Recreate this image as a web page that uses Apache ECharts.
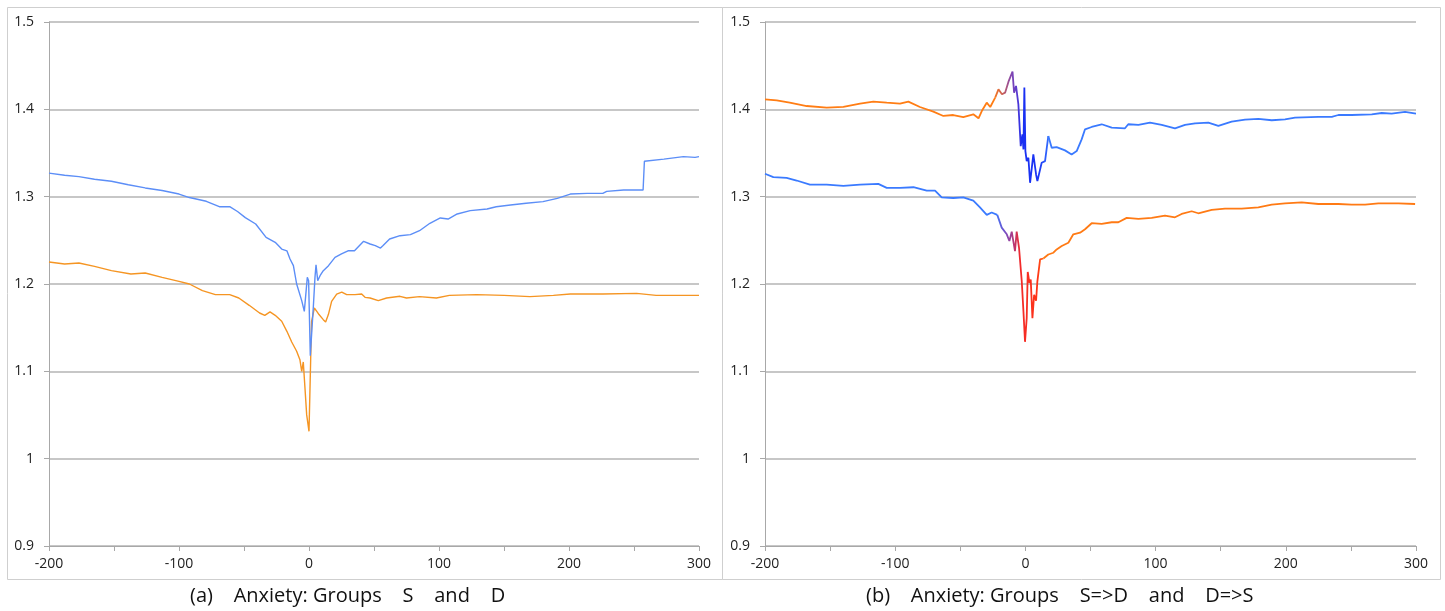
<!DOCTYPE html>
<html>
<head>
<meta charset="utf-8">
<title>Anxiety</title>
<script src="https://cdn.jsdelivr.net/npm/echarts@6/dist/echarts.min.js"></script>
<style>
  html, body { margin: 0; padding: 0; background: #fff; }
  #chart { width: 1445px; height: 611px; }
</style>
</head>
<body>
<div id="chart"></div>
<script>
// x ticks / y ticks
const xTicks = [-200, -100, 0, 100, 200, 300]
const yTicks = [0.9, 1.0, 1.1, 1.2, 1.3, 1.4, 1.5]

// (a) upper blue line
const aBlueX = [-200, -188, -177, -165, -152, -139, -126, -113, -100, -92, -79, -69, -61, -55, -49, -41, -33, -26, -21, -17, -14.6, -12, -9.5, -5.6, -3.6, -2.3, -1.3, -0.3, 1, 3.3, 4.6, 5.4, 6.7, 8.5, 11, 15, 20, 25, 30, 35, 42, 47, 51, 55, 57, 62, 70, 78, 85, 93, 101, 107, 114, 124, 137, 144, 155, 167, 180, 191, 201, 214, 226, 229, 242, 257, 258, 273, 288, 297, 300]
const aBlueY = [1.327, 1.3245, 1.323, 1.320, 1.3176, 1.3137, 1.310, 1.307, 1.303, 1.299, 1.2947, 1.2885, 1.2885, 1.283, 1.276, 1.2687, 1.2534, 1.2477, 1.240, 1.238, 1.2286, 1.221, 1.200, 1.181, 1.1687, 1.1687, 1.2076, 1.2038, 1.118, 1.173, 1.2076, 1.222, 1.2038, 1.2095, 1.2153, 1.221, 1.2305, 1.2344, 1.238, 1.238, 1.2489, 1.2458, 1.244, 1.2412, 1.244, 1.2515, 1.2553, 1.2565, 1.261, 1.2695, 1.2756, 1.2744, 1.2802, 1.284, 1.2859, 1.2885, 1.2905, 1.2924, 1.2943, 1.298, 1.303, 1.3038, 1.3038, 1.306, 1.3076, 1.3076, 1.3405, 1.343, 1.3458, 1.345, 1.3458]

// (a) lower orange line
const aOrangeX = [-200, -188, -177, -165, -152, -137, -126, -113, -100, -92, -82, -72, -61, -54, -46, -38, -34, -30, -26, -21, -17, -13.3, -9.5, -7, -5.6, -4.4, -3.1, -1.8, 0, 1.3, 2, 4.1, 6, 7.7, 11, 12.8, 14.9, 17.4, 21.3, 25.2, 29, 35.4, 40.5, 43.1, 47, 53.3, 59.7, 70, 75, 85, 98, 108, 129, 150, 170, 188, 201, 226, 252, 267, 300]
const aOrangeY = [1.2252, 1.2229, 1.224, 1.2202, 1.2153, 1.2115, 1.2126, 1.2076, 1.203, 1.200, 1.1924, 1.1878, 1.1878, 1.184, 1.1756, 1.1668, 1.1641, 1.168, 1.1641, 1.1573, 1.1458, 1.1336, 1.123, 1.1134, 1.100, 1.1107, 1.0809, 1.0504, 1.0313, 1.1145, 1.1573, 1.1725, 1.1687, 1.165, 1.1592, 1.1565, 1.165, 1.1802, 1.1885, 1.1908, 1.1878, 1.1878, 1.1885, 1.1847, 1.184, 1.1809, 1.184, 1.1859, 1.184, 1.1855, 1.184, 1.187, 1.1878, 1.187, 1.1855, 1.187, 1.1885, 1.1885, 1.1893, 1.187, 1.187]

// (b) S=>D, starts orange and ends blue
const bSDX = [-200, -191, -181, -168, -152.6, -139.8, -127, -116.8, -106.5, -96.3, -89.9, -81, -70.7, -63, -55.4, -47.7, -40, -36, -33.5, -29.7, -27, -23.2, -20.7, -18, -15.6, -13, -9.9, -8.7, -7.2, -5.4, -3.6, -2.3, -1.5, -0.8, 0, 1, 2.3, 3.6, 6.1, 8.2, 9.2, 12.5, 15.1, 17.6, 20.2, 24, 30.4, 35.5, 39.4, 43.2, 45.8, 50.9, 58.6, 66.3, 76.5, 79, 86.8, 95.7, 104.7, 114.9, 122.6, 130.3, 140.5, 148.2, 158.4, 168.7, 178.9, 189.2, 199.4, 207.1, 225, 235.3, 240.4, 250.6, 266, 273.7, 281.3, 291.6, 300]
const bSDY = [1.4115, 1.4103, 1.4076, 1.4038, 1.4019, 1.4027, 1.4065, 1.4088, 1.4076, 1.4065, 1.4088, 1.4027, 1.3973, 1.3924, 1.3935, 1.3912, 1.3943, 1.3897, 1.398, 1.4076, 1.4027, 1.4134, 1.4229, 1.4172, 1.4191, 1.4317, 1.4432, 1.4191, 1.4268, 1.4057, 1.3579, 1.3713, 1.3541, 1.4249, 1.3522, 1.3407, 1.3446, 1.3159, 1.3484, 1.3254, 1.3178, 1.3388, 1.3407, 1.3694, 1.356, 1.3568, 1.353, 1.3484, 1.3522, 1.3656, 1.3771, 1.3798, 1.3829, 1.3791, 1.3783, 1.3829, 1.3821, 1.3848, 1.3821, 1.3783, 1.3821, 1.384, 1.3848, 1.381, 1.3859, 1.3882, 1.389, 1.3875, 1.3886, 1.3905, 1.3913, 1.3913, 1.3935, 1.3935, 1.3943, 1.3958, 1.3951, 1.397, 1.3951]

// (b) D=>S, starts blue and ends orange
const bDSX = [-200, -193.6, -183.4, -175.7, -165.5, -152.6, -139.8, -127, -113, -106.5, -96.3, -86, -75.8, -69.4, -64.3, -55.4, -47.7, -40, -34.9, -29.7, -25.9, -21.6, -18.2, -14.3, -12.3, -10.5, -8, -6.7, -4.9, -2.8, -1.5, -0.3, 1, 1.8, 3.1, 4.1, 5.4, 6.7, 8.2, 9.2, 11.3, 13.8, 17.6, 21.5, 24, 27.9, 33, 36.8, 42, 45.8, 50.9, 58.6, 66.3, 71.4, 77.8, 86.8, 97, 107.2, 114.9, 120, 127.7, 132.8, 143.1, 153.3, 166.1, 178.9, 189.2, 199.4, 212.2, 225, 240.4, 250.6, 260.9, 271.1, 286.5, 299.3]
const bDSY = [1.3262, 1.3223, 1.3215, 1.3185, 1.3138, 1.3138, 1.3123, 1.3138, 1.3146, 1.31, 1.31, 1.3108, 1.3069, 1.3069, 1.2992, 1.2985, 1.2992, 1.2954, 1.2877, 1.2792, 1.2819, 1.2792, 1.2646, 1.2569, 1.2492, 1.26, 1.2377, 1.26, 1.2415, 1.2031, 1.1685, 1.1338, 1.1608, 1.2138, 1.2012, 1.205, 1.1608, 1.1877, 1.1808, 1.2031, 1.2281, 1.2292, 1.2338, 1.2358, 1.2396, 1.2435, 1.2473, 1.2569, 1.2588, 1.2627, 1.2696, 1.2688, 1.2707, 1.2707, 1.2757, 1.2745, 1.2757, 1.2783, 1.2764, 1.2802, 1.2833, 1.281, 1.2848, 1.2863, 1.2863, 1.2878, 1.2909, 1.2924, 1.2935, 1.2916, 1.2916, 1.2909, 1.2909, 1.2924, 1.2924, 1.2916]

// colour transitions around 0 in panel (b): [x, colour]
const bSDStops = [[-23.2, '#ff7d14'], [-16, '#c8605a'], [-11, '#8c4aa8'], [-6, '#5a3ad0'], [-3, '#1a30f2'], [9, '#1a34f5'], [17.6, '#3a7aff']]
const bDSStops = [[-21.6, '#3a7aff'], [-14, '#7a4cc0'], [-9, '#b03a80'], [-4, '#f22a2a'], [8, '#ff3416'], [13.8, '#ff7a14']]

const captions = ['(a)    Anxiety: Groups    S    and    D', '(b)    Anxiety: Groups    S=>D    and    D=>S']

const FONT = '"Open Sans", "Noto Sans", sans-serif'
const AXIS_COLOR = '#a8a8a8'

const zip = (xs, ys) => xs.map((x, i) => [x, ys[i]])
const part = (xs, ys, lo, hi) => zip(xs, ys).filter((p) => p[0] >= lo && p[0] <= hi)

const gradient = (stops) => {
  const x0 = stops[0][0]
  const x1 = stops[stops.length - 1][0]
  return {
    type: 'linear', x: 0, y: 0, x2: 1, y2: 0,
    colorStops: stops.map(([x, c]) => ({ offset: (x - x0) / (x1 - x0), color: c })),
  }
}

const xAxisFor = (gridIndex) => ({
  type: 'value',
  gridIndex,
  min: xTicks[0],
  max: xTicks[xTicks.length - 1],
  interval: 100,
  axisLine: { onZero: false, lineStyle: { color: AXIS_COLOR, width: 1 } },
  axisTick: { length: 5, lineStyle: { color: AXIS_COLOR } },
  minorTick: { show: true, splitNumber: 2, length: 5, lineStyle: { color: AXIS_COLOR } },
  splitLine: { show: false },
  axisLabel: { color: '#222', fontSize: 14, fontFamily: FONT, margin: 11 },
})

const yAxisFor = (gridIndex) => ({
  type: 'value',
  gridIndex,
  min: yTicks[0],
  max: yTicks[yTicks.length - 1],
  interval: 0.1,
  axisLine: { show: true, onZero: false, lineStyle: { color: AXIS_COLOR, width: 1 } },
  axisTick: { show: true, length: 5, lineStyle: { color: AXIS_COLOR } },
  splitLine: { show: true, lineStyle: { color: '#b4b4b4', width: 1.5 } },
  axisLabel: { color: '#222', fontSize: 14, fontFamily: FONT, margin: 15 },
})

const line = (xi, data, color, width) => ({
  type: 'line',
  xAxisIndex: xi,
  yAxisIndex: xi,
  data,
  showSymbol: false,
  symbol: 'none',
  lineStyle: { color, width },
  emphasis: { disabled: true },
})

const caption = (left, text) => ({
  type: 'text',
  left,
  top: 586,
  style: { text, fill: '#111', fontSize: 20, fontFamily: FONT },
})

const sdA = bSDStops[0][0], sdB = bSDStops[bSDStops.length - 1][0]
const dsA = bDSStops[0][0], dsB = bDSStops[bDSStops.length - 1][0]

const chart = echarts.init(document.getElementById('chart'))
chart.setOption({
  animation: false,
  backgroundColor: '#fff',
  grid: [
    { left: 49, right: 746, top: 22, bottom: 65 },
    { left: 765, right: 29, top: 22, bottom: 65 },
  ],
  xAxis: [xAxisFor(0), xAxisFor(1)],
  yAxis: [yAxisFor(0), yAxisFor(1)],
  series: [
    line(0, zip(aOrangeX, aOrangeY), '#f59523', 1.4),
    line(0, zip(aBlueX, aBlueY), '#5c8ef7', 1.4),

    line(1, part(bSDX, bSDY, -Infinity, sdA), '#ff7d14', 1.8),
    line(1, part(bSDX, bSDY, sdA, sdB), gradient(bSDStops), 1.8),
    line(1, part(bSDX, bSDY, sdB, Infinity), '#3a7aff', 1.8),

    line(1, part(bDSX, bDSY, -Infinity, dsA), '#3a7aff', 1.8),
    line(1, part(bDSX, bDSY, dsA, dsB), gradient(bDSStops), 1.8),
    line(1, part(bDSX, bDSY, dsB, Infinity), '#ff7a14', 1.8),
  ],
  graphic: [
    { type: 'rect', shape: { x: 7.5, y: 7.5, width: 715, height: 572 }, style: { fill: 'none', stroke: '#cfcfcf', lineWidth: 1 } },
    { type: 'rect', shape: { x: 722.5, y: 7.5, width: 718, height: 572 }, style: { fill: 'none', stroke: '#cfcfcf', lineWidth: 1 } },
    caption(190, captions[0]),
    caption(866, captions[1]),
  ],
})
</script>
</body>
</html>
